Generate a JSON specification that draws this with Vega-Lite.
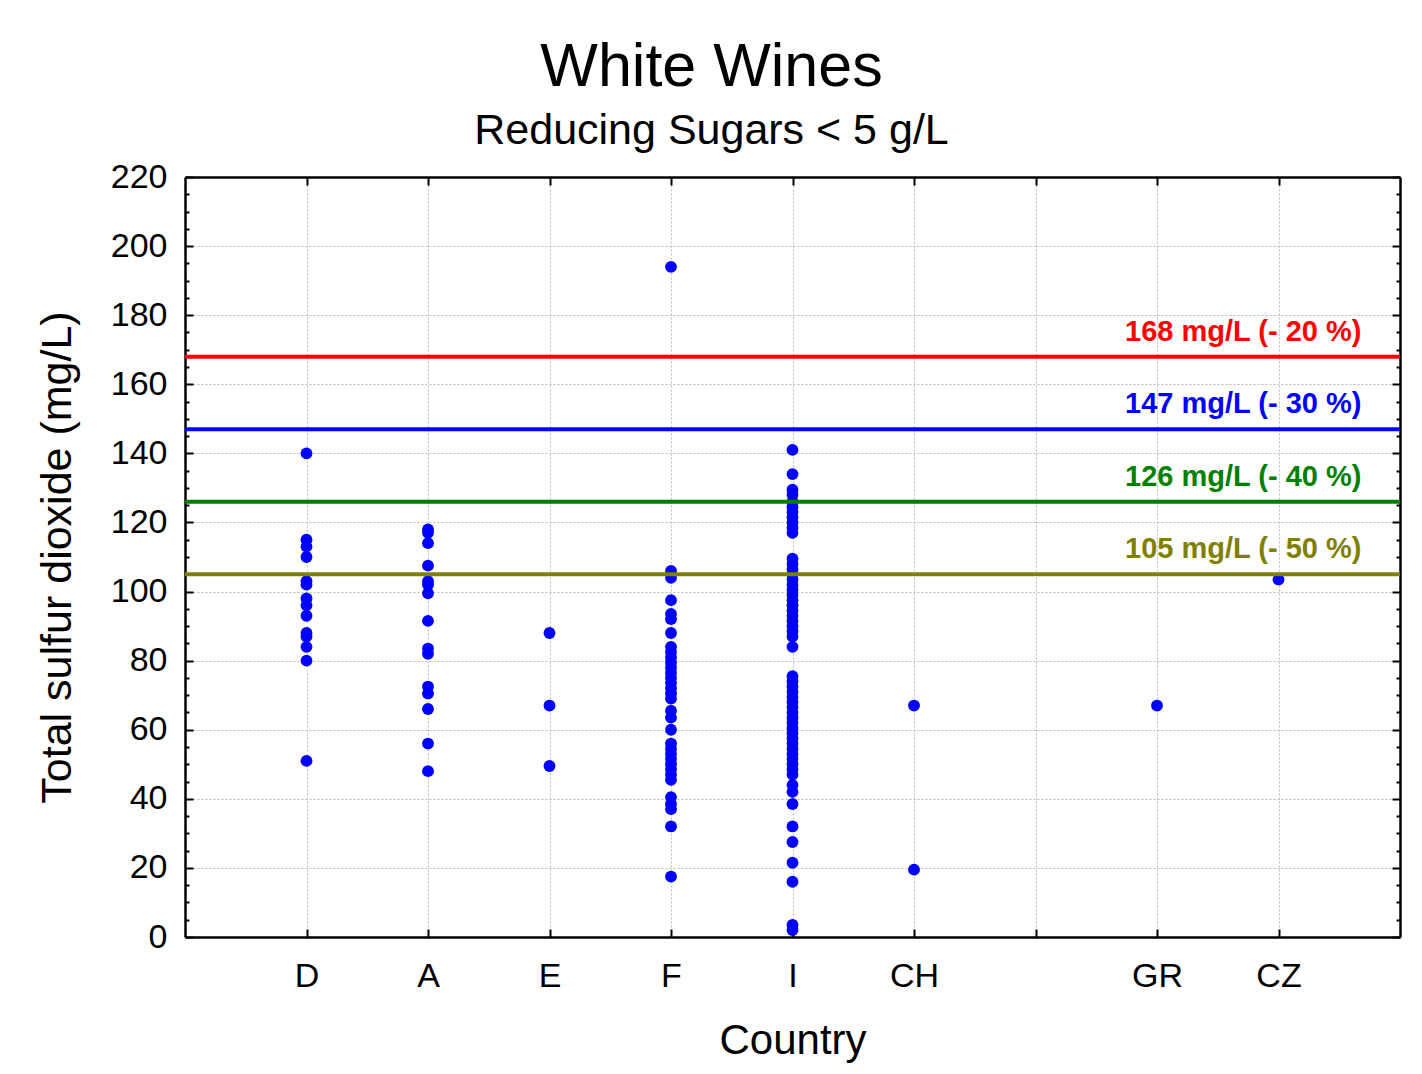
{
  "$schema": "https://vega.github.io/schema/vega-lite/v6.json",
  "width": 1215,
  "height": 760,
  "autosize": "none",
  "padding": {"left": 185, "top": 177, "right": 22, "bottom": 137},
  "background": "white",
  "title": {
    "text": "White Wines",
    "subtitle": "Reducing Sugars < 5 g/L",
    "font": "Liberation Sans",
    "subtitleFont": "Liberation Sans",
    "fontSize": 61,
    "subtitleFontSize": 43,
    "fontWeight": "normal",
    "color": "black",
    "subtitleColor": "black",
    "anchor": "middle",
    "dx": -81,
    "offset": 6,
    "subtitlePadding": 11
  },
  "config": {
    "view": {"stroke": null},
    "axis": {
      "labelFont": "Liberation Sans",
      "titleFont": "Liberation Sans",
      "labelColor": "black",
      "titleColor": "black",
      "titleFontWeight": "normal",
      "domainColor": "black",
      "domainWidth": 2.5,
      "tickColor": "black",
      "tickWidth": 2,
      "gridColor": "#bdbdbd",
      "gridDash": [2, 2],
      "gridWidth": 1
    }
  },
  "datasets": {
    "wines": [
      {"country": "D", "so2": 140}, {"country": "D", "so2": 115}, {"country": "D", "so2": 113}, {"country": "D", "so2": 110},
      {"country": "D", "so2": 103}, {"country": "D", "so2": 102}, {"country": "D", "so2": 98}, {"country": "D", "so2": 96},
      {"country": "D", "so2": 93}, {"country": "D", "so2": 88}, {"country": "D", "so2": 87}, {"country": "D", "so2": 84},
      {"country": "D", "so2": 80}, {"country": "D", "so2": 51},
      {"country": "A", "so2": 118}, {"country": "A", "so2": 117}, {"country": "A", "so2": 114}, {"country": "A", "so2": 107.5},
      {"country": "A", "so2": 103}, {"country": "A", "so2": 102}, {"country": "A", "so2": 99.5}, {"country": "A", "so2": 91.5},
      {"country": "A", "so2": 83.5}, {"country": "A", "so2": 82}, {"country": "A", "so2": 72.5}, {"country": "A", "so2": 70.5},
      {"country": "A", "so2": 66}, {"country": "A", "so2": 56}, {"country": "A", "so2": 48},
      {"country": "E", "so2": 88}, {"country": "E", "so2": 67}, {"country": "E", "so2": 49.5},
      {"country": "F", "so2": 194}, {"country": "F", "so2": 106}, {"country": "F", "so2": 104}, {"country": "F", "so2": 97.5},
      {"country": "F", "so2": 93.5}, {"country": "F", "so2": 92}, {"country": "F", "so2": 88}, {"country": "F", "so2": 84},
      {"country": "F", "so2": 82.5}, {"country": "F", "so2": 81}, {"country": "F", "so2": 79.5}, {"country": "F", "so2": 78},
      {"country": "F", "so2": 76.5}, {"country": "F", "so2": 75}, {"country": "F", "so2": 73.5}, {"country": "F", "so2": 72},
      {"country": "F", "so2": 70.5}, {"country": "F", "so2": 69}, {"country": "F", "so2": 65.5}, {"country": "F", "so2": 63.5},
      {"country": "F", "so2": 60}, {"country": "F", "so2": 56}, {"country": "F", "so2": 54.5}, {"country": "F", "so2": 53},
      {"country": "F", "so2": 51.5}, {"country": "F", "so2": 50}, {"country": "F", "so2": 48.5}, {"country": "F", "so2": 47},
      {"country": "F", "so2": 45.5}, {"country": "F", "so2": 40.5}, {"country": "F", "so2": 38.5}, {"country": "F", "so2": 37},
      {"country": "F", "so2": 32}, {"country": "F", "so2": 17.5},
      {"country": "I", "so2": 141}, {"country": "I", "so2": 134}, {"country": "I", "so2": 129.5}, {"country": "I", "so2": 128},
      {"country": "I", "so2": 126}, {"country": "I", "so2": 124.5}, {"country": "I", "so2": 123}, {"country": "I", "so2": 121.5},
      {"country": "I", "so2": 120}, {"country": "I", "so2": 118.5}, {"country": "I", "so2": 117}, {"country": "I", "so2": 109.5},
      {"country": "I", "so2": 108}, {"country": "I", "so2": 106.5}, {"country": "I", "so2": 105}, {"country": "I", "so2": 103.5},
      {"country": "I", "so2": 102}, {"country": "I", "so2": 100.5}, {"country": "I", "so2": 99}, {"country": "I", "so2": 97.5},
      {"country": "I", "so2": 96}, {"country": "I", "so2": 94.5}, {"country": "I", "so2": 93}, {"country": "I", "so2": 91.5},
      {"country": "I", "so2": 90}, {"country": "I", "so2": 88.5}, {"country": "I", "so2": 87}, {"country": "I", "so2": 84},
      {"country": "I", "so2": 75.5}, {"country": "I", "so2": 74}, {"country": "I", "so2": 72.5}, {"country": "I", "so2": 71},
      {"country": "I", "so2": 69.5}, {"country": "I", "so2": 68}, {"country": "I", "so2": 66.5}, {"country": "I", "so2": 65},
      {"country": "I", "so2": 63.5}, {"country": "I", "so2": 62}, {"country": "I", "so2": 60.5}, {"country": "I", "so2": 59},
      {"country": "I", "so2": 57.5}, {"country": "I", "so2": 56}, {"country": "I", "so2": 54.5}, {"country": "I", "so2": 53},
      {"country": "I", "so2": 51.5}, {"country": "I", "so2": 50}, {"country": "I", "so2": 48.5}, {"country": "I", "so2": 47},
      {"country": "I", "so2": 44}, {"country": "I", "so2": 42}, {"country": "I", "so2": 38.5}, {"country": "I", "so2": 32},
      {"country": "I", "so2": 27.5}, {"country": "I", "so2": 21.5}, {"country": "I", "so2": 16}, {"country": "I", "so2": 3.5},
      {"country": "I", "so2": 2},
      {"country": "CH", "so2": 67}, {"country": "CH", "so2": 19.5},
      {"country": "GR", "so2": 67},
      {"country": "CZ", "so2": 103.5}
    ],
    "thresholds": [
      {"limit": 168, "label": "168 mg/L (- 20 %)"},
      {"limit": 147, "label": "147 mg/L (- 30 %)"},
      {"limit": 126, "label": "126 mg/L (- 40 %)"},
      {"limit": 105, "label": "105 mg/L (- 50 %)"}
    ]
  },
  "layer": [
    {
      "data": {"name": "wines"},
      "mark": {"type": "circle", "size": 140, "color": "#0000ff", "opacity": 1},
      "encoding": {
        "x": {
          "field": "country",
          "type": "nominal",
          "scale": {"type": "point", "domain": ["D", "A", "E", "F", "I", "CH", " ", "GR", "CZ"], "padding": 1},
          "axis": {
            "orient": "bottom",
            "title": "Country",
            "titleFontSize": 42,
            "titlePadding": 27,
            "labelFontSize": 34,
            "labelPadding": 30,
            "labelAngle": 0,
            "tickSize": -8,
            "grid": true
          }
        },
        "y": {
          "field": "so2",
          "type": "quantitative",
          "scale": {"domain": [0, 220], "nice": false, "zero": true},
          "axis": {
            "orient": "left",
            "title": "Total sulfur dioxide (mg/L)",
            "titleFontSize": 43,
            "titlePadding": 31,
            "values": [0,5,10,15,20,25,30,35,40,45,50,55,60,65,70,75,80,85,90,95,100,105,110,115,120,125,130,135,140,145,150,155,160,165,170,175,180,185,190,195,200,205,210,215,220],
            "labelExpr": "datum.value % 20 === 0 ? datum.label : ''",
            "labelOverlap": false,
            "labelFontSize": 34,
            "labelPadding": 26,
            "tickSize": {"condition": {"test": "datum.value % 20 === 0", "value": -8}, "value": -4},
            "grid": true,
            "gridOpacity": {"condition": {"test": "datum.value % 20 === 0", "value": 1}, "value": 0}
          }
        }
      }
    },
    {
      "data": {"name": "thresholds"},
      "mark": {"type": "rule", "strokeWidth": 4},
      "encoding": {
        "y": {"field": "limit", "type": "quantitative", "axis": null},
        "color": {
          "field": "label",
          "type": "nominal",
          "scale": {
            "domain": ["168 mg/L (- 20 %)", "147 mg/L (- 30 %)", "126 mg/L (- 40 %)", "105 mg/L (- 50 %)"],
            "range": ["#ff0000", "#0000ff", "#008000", "#808000"]
          },
          "legend": null
        }
      }
    },
    {
      "data": {"name": "thresholds"},
      "mark": {
        "type": "text",
        "align": "right",
        "baseline": "alphabetic",
        "dx": 83,
        "dy": -16,
        "font": "Liberation Sans",
        "fontSize": 29,
        "fontWeight": "bold"
      },
      "encoding": {
        "x": {
          "datum": "CZ",
          "type": "nominal",
          "axis": {"orient": "top", "title": null, "labels": false, "tickSize": -8, "grid": false}
        },
        "y": {
          "field": "limit",
          "type": "quantitative",
          "axis": {
            "orient": "right",
            "title": null,
            "labels": false,
            "values": [0,5,10,15,20,25,30,35,40,45,50,55,60,65,70,75,80,85,90,95,100,105,110,115,120,125,130,135,140,145,150,155,160,165,170,175,180,185,190,195,200,205,210,215,220],
            "tickSize": {"condition": {"test": "datum.value % 20 === 0", "value": -8}, "value": -4},
            "grid": false
          }
        },
        "text": {"field": "label"},
        "color": {"field": "label", "type": "nominal", "legend": null}
      }
    }
  ],
  "resolve": {"axis": {"x": "independent", "y": "independent"}}
}
